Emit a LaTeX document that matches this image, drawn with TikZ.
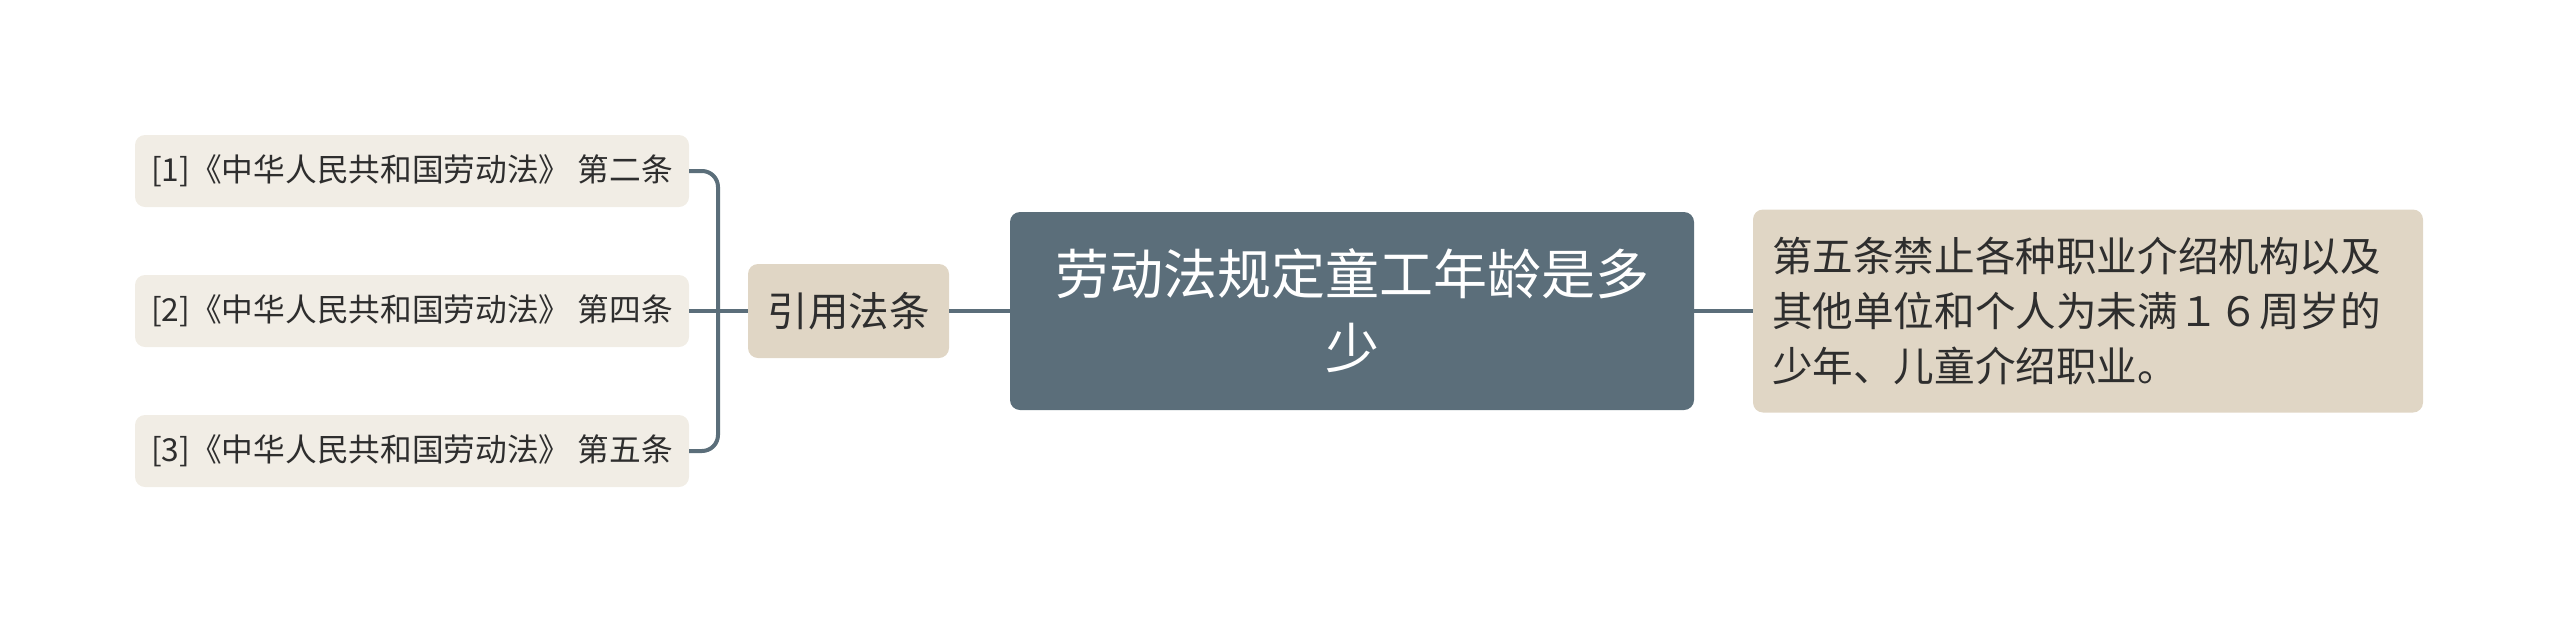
\documentclass[tikz,border=0pt]{standalone}
\usepackage{fontspec}
\setmainfont{Noto Sans CJK SC}
\definecolor{linec}{HTML}{5B6E7A}
\definecolor{leaff}{HTML}{F1EDE5}
\definecolor{tanf}{HTML}{E0D6C5}
\definecolor{txt}{HTML}{2E2E2E}
\tikzset{
  box/.style={rectangle, rounded corners=10pt, draw=none, inner sep=0pt, anchor=center},
  leafbox/.style={box, fill=leaff, minimum width=554pt, minimum height=72pt, text=txt, font=\fontsize{31.7pt}{40pt}\selectfont},
  conn/.style={draw=linec, line width=4pt},
}
\begin{document}
\begin{tikzpicture}[x=1pt,y=-1pt]
\useasboundingbox (0,0) rectangle (2560,622);
\node[leafbox] (l1) at (412,171) {[1]《中华人民共和国劳动法》 第二条};
\node[leafbox] (l2) at (412,311) {[2]《中华人民共和国劳动法》 第四条};
\node[leafbox] (l3) at (412,451) {[3]《中华人民共和国劳动法》 第五条};
\node[box, fill=tanf, minimum width=201pt, minimum height=94pt, text=txt, font=\fontsize{40.5pt}{52pt}\selectfont] (yin) at (848.5,311) {引用法条};
\node[box, fill=linec, minimum width=684pt, minimum height=198pt, text=white, align=center, font=\fontsize{54pt}{74pt}\selectfont] (c) at (1352,311) {劳动法规定童工年龄是多\\少};
\node[box, fill=tanf, minimum width=670pt, minimum height=203pt, inner xsep=19pt, text width=632pt, align=left, text=txt, font=\fontsize{40.6pt}{55pt}\selectfont] (r) at (2088,311) {第五条禁止各种职业介绍机构以及\\其他单位和个人为未满１６周岁的\\少年、儿童介绍职业。};
\coordinate (j) at (718,311);
\draw[conn, rounded corners=16pt] (l1.east) -| (j);
\draw[conn, rounded corners=16pt] (l3.east) -| (j);
\draw[conn] (l2.east) -- (yin.west);
\draw[conn] (yin.east) -- (c.west);
\draw[conn] (c.east) -- (r.west);
\end{tikzpicture}
\end{document}
